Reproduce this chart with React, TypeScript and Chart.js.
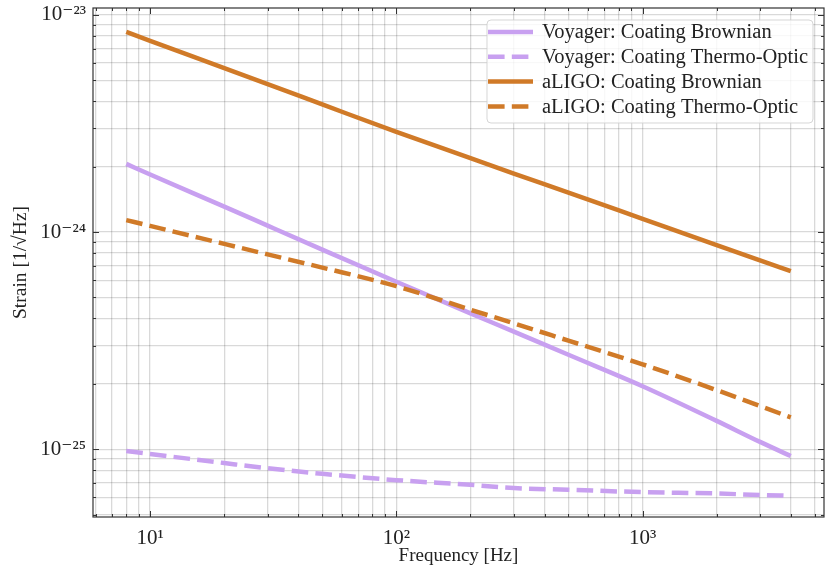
import React, { useEffect, useRef } from 'react';
import { Chart, registerables } from 'chart.js';

Chart.register(...registerables);

// frequencies [Hz]
const freqs = [8, 10, 20, 30, 50, 100, 200, 300, 500, 1000, 2000, 3000, 4000];

const voyagerBrownian = [2.06e-24, 1.84e-24, 1.31e-24, 1.07e-24, 8.3e-25, 5.9e-25, 4.22e-25, 3.48e-25, 2.72e-25, 1.95e-25, 1.35e-25, 1.08e-25, 9.3e-26];
const voyagerThermoOptic = [9.8e-26, 9.5e-26, 8.63e-26, 8.17e-26, 7.7e-26, 7.2e-26, 6.85e-26, 6.62e-26, 6.5e-26, 6.34e-26, 6.25e-26, 6.15e-26, 6.1e-26];
const aligoBrownian = [8.35e-24, 7.6e-24, 5.69e-24, 4.8e-24, 3.87e-24, 2.89e-24, 2.19e-24, 1.86e-24, 1.52e-24, 1.15e-24, 8.7e-25, 7.4e-25, 6.6e-25];
const aligoThermoOptic = [1.135e-24, 1.067e-24, 8.82e-25, 7.89e-25, 6.86e-25, 5.63e-25, 4.39e-25, 3.8e-25, 3.16e-25, 2.46e-25, 1.87e-25, 1.58e-25, 1.4e-25];

const seriesLabels = [
  'Voyager: Coating Brownian',
  'Voyager: Coating Thermo-Optic',
  'aLIGO: Coating Brownian',
  'aLIGO: Coating Thermo-Optic',
];

// tick decades and minor multipliers
const xDecades = [0, 1, 2, 3];
const yDecades = [-26, -25, -24, -23];
const multipliers = [1, 2, 3, 4, 5, 6, 7, 8, 9];

const xRange = [5.86, 5457];
const yRange = [4.87e-26, 1.076e-23];

const PURPLE = '#c8a0f0';
const ORANGE = '#d07a28';
const SERIF = "'Liberation Serif', 'DejaVu Serif', serif";

const SUP: Record<string, string> = {
  '-': '⁻', '0': '⁰', '1': '¹', '2': '²', '3': '³', '4': '⁴',
  '5': '⁵', '6': '⁶', '7': '⁷', '8': '⁸', '9': '⁹',
};

const isPow10 = (v: number) => {
  const e = Math.log10(v);
  return Math.abs(e - Math.round(e)) < 1e-6;
};

const powLabel = (v: number) => {
  if (!isPow10(v)) return '';
  const e = Math.round(Math.log10(v));
  return '10' + String(e).split('').map((c) => SUP[c]).join('');
};

const buildTicks = (decades: number[], lo: number, hi: number) => {
  const out: { value: number }[] = [];
  decades.forEach((d) => {
    multipliers.forEach((m) => {
      const v = m * Math.pow(10, d);
      if (v >= lo && v <= hi) out.push({ value: v });
    });
  });
  return out;
};

const frameAndLegend = {
  id: 'frameAndLegend',
  afterDraw(chart: any) {
    const { ctx, chartArea } = chart;
    const { left, right, top, bottom } = chartArea;
    ctx.save();

    // inward tick marks on all four sides
    ctx.strokeStyle = '#333';
    ctx.lineWidth = 1;
    chart.scales.x.ticks.forEach((t: any) => {
      const px = Math.round(chart.scales.x.getPixelForValue(t.value)) + 0.5;
      const len = isPow10(t.value) ? 6 : 3;
      ctx.beginPath();
      ctx.moveTo(px, bottom);
      ctx.lineTo(px, bottom - len);
      ctx.moveTo(px, top);
      ctx.lineTo(px, top + len);
      ctx.stroke();
    });
    chart.scales.y.ticks.forEach((t: any) => {
      const py = Math.round(chart.scales.y.getPixelForValue(t.value)) + 0.5;
      const len = isPow10(t.value) ? 6 : 3;
      ctx.beginPath();
      ctx.moveTo(left, py);
      ctx.lineTo(left + len, py);
      ctx.moveTo(right, py);
      ctx.lineTo(right - len, py);
      ctx.stroke();
    });

    ctx.strokeStyle = '#333';
    ctx.lineWidth = 1.2;
    ctx.strokeRect(left, top, right - left, bottom - top);

    // legend box, top right
    const bx = 487, by = 20, bw = 326, bh = 103, r = 4;
    ctx.beginPath();
    ctx.moveTo(bx + r, by);
    ctx.arcTo(bx + bw, by, bx + bw, by + bh, r);
    ctx.arcTo(bx + bw, by + bh, bx, by + bh, r);
    ctx.arcTo(bx, by + bh, bx, by, r);
    ctx.arcTo(bx, by, bx + bw, by, r);
    ctx.closePath();
    ctx.fillStyle = 'rgba(255,255,255,0.8)';
    ctx.fill();
    ctx.strokeStyle = 'rgba(204,204,204,0.8)';
    ctx.lineWidth = 1;
    ctx.stroke();

    const colors = [PURPLE, PURPLE, ORANGE, ORANGE];
    const dashed = [false, true, false, true];
    seriesLabels.forEach((label, i) => {
      const y = 32 + i * 24.8;
      ctx.beginPath();
      ctx.strokeStyle = colors[i];
      ctx.lineWidth = 4.5;
      ctx.lineCap = 'butt';
      ctx.setLineDash(dashed[i] ? [16.6, 7.2] : []);
      ctx.moveTo(488, y);
      ctx.lineTo(533, y);
      ctx.stroke();
      ctx.setLineDash([]);
      ctx.fillStyle = '#222';
      ctx.font = `20.5px ${SERIF}`;
      ctx.textBaseline = 'middle';
      ctx.textAlign = 'left';
      ctx.fillText(label, 542, y + 1);
    });
    ctx.restore();
  },
};

const App: React.FC = () => {
  const canvasRef = useRef<HTMLCanvasElement>(null);
  const chartRef = useRef<Chart | null>(null);

  useEffect(() => {
    document.body.style.margin = '0';
    if (!canvasRef.current) return;
    if (chartRef.current) chartRef.current.destroy();

    const toPoints = (vals: number[]) => vals.map((v, i) => ({ x: freqs[i], y: v }));
    const series = [voyagerBrownian, voyagerThermoOptic, aligoBrownian, aligoThermoOptic];
    const colors = [PURPLE, PURPLE, ORANGE, ORANGE];
    const dashed = [false, true, false, true];

    chartRef.current = new Chart(canvasRef.current, {
      type: 'line',
      data: {
        datasets: series.map((vals, i) => ({
          label: seriesLabels[i],
          data: toPoints(vals),
          borderColor: colors[i],
          backgroundColor: colors[i],
          borderWidth: 4.5,
          borderDash: dashed[i] ? [16.6, 7.2] : [],
          pointRadius: 0,
          cubicInterpolationMode: 'monotone',
          fill: false,
          order: i < 2 ? 1 : 0,
        })),
      },
      options: {
        responsive: false,
        animation: false,
        layout: { padding: { left: 0, right: 7, top: 8, bottom: 0 } },
        plugins: {
          legend: { display: false },
          tooltip: { enabled: false },
        },
        scales: {
          x: {
            type: 'logarithmic',
            min: xRange[0],
            max: xRange[1],
            afterBuildTicks: (scale: any) => {
              scale.ticks = buildTicks(xDecades, xRange[0], xRange[1]);
            },
            afterFit: (scale: any) => {
              scale.height = 59;
              scale.paddingLeft = 0;
              scale.paddingRight = 0;
            },
            grid: { color: 'rgba(0,0,0,0.15)', lineWidth: 1.3, drawTicks: false },
            border: { display: false },
            ticks: {
              autoSkip: false,
              maxRotation: 0,
              padding: 9,
              color: '#222',
              font: { family: SERIF, size: 21 },
              callback: (v: any) => powLabel(Number(v)),
            },
            title: {
              display: true,
              text: 'Frequency [Hz]',
              color: '#222',
              font: { family: SERIF, size: 19 },
              padding: { top: 0, bottom: 9 },
            },
          },
          y: {
            type: 'logarithmic',
            min: yRange[0],
            max: yRange[1],
            afterBuildTicks: (scale: any) => {
              scale.ticks = buildTicks(yDecades, yRange[0], yRange[1]);
            },
            afterFit: (scale: any) => {
              scale.width = 93;
              scale.paddingTop = 0;
              scale.paddingBottom = 0;
            },
            grid: { color: 'rgba(0,0,0,0.15)', lineWidth: 1.3, drawTicks: false },
            border: { display: false },
            ticks: {
              autoSkip: false,
              padding: 7,
              color: '#222',
              font: { family: SERIF, size: 21 },
              callback: (v: any) => powLabel(Number(v)),
            },
            title: {
              display: true,
              text: 'Strain [1/√Hz]',
              color: '#222',
              font: { family: SERIF, size: 19.5 },
              padding: { top: 9, bottom: 0 },
            },
          },
        },
      },
      plugins: [frameAndLegend],
    });

    return () => {
      if (chartRef.current) {
        chartRef.current.destroy();
        chartRef.current = null;
      }
    };
  }, []);

  return (
    <div style={{ width: 831, height: 576 }}>
      <canvas ref={canvasRef} width={831} height={576}></canvas>
    </div>
  );
};

export default App;
